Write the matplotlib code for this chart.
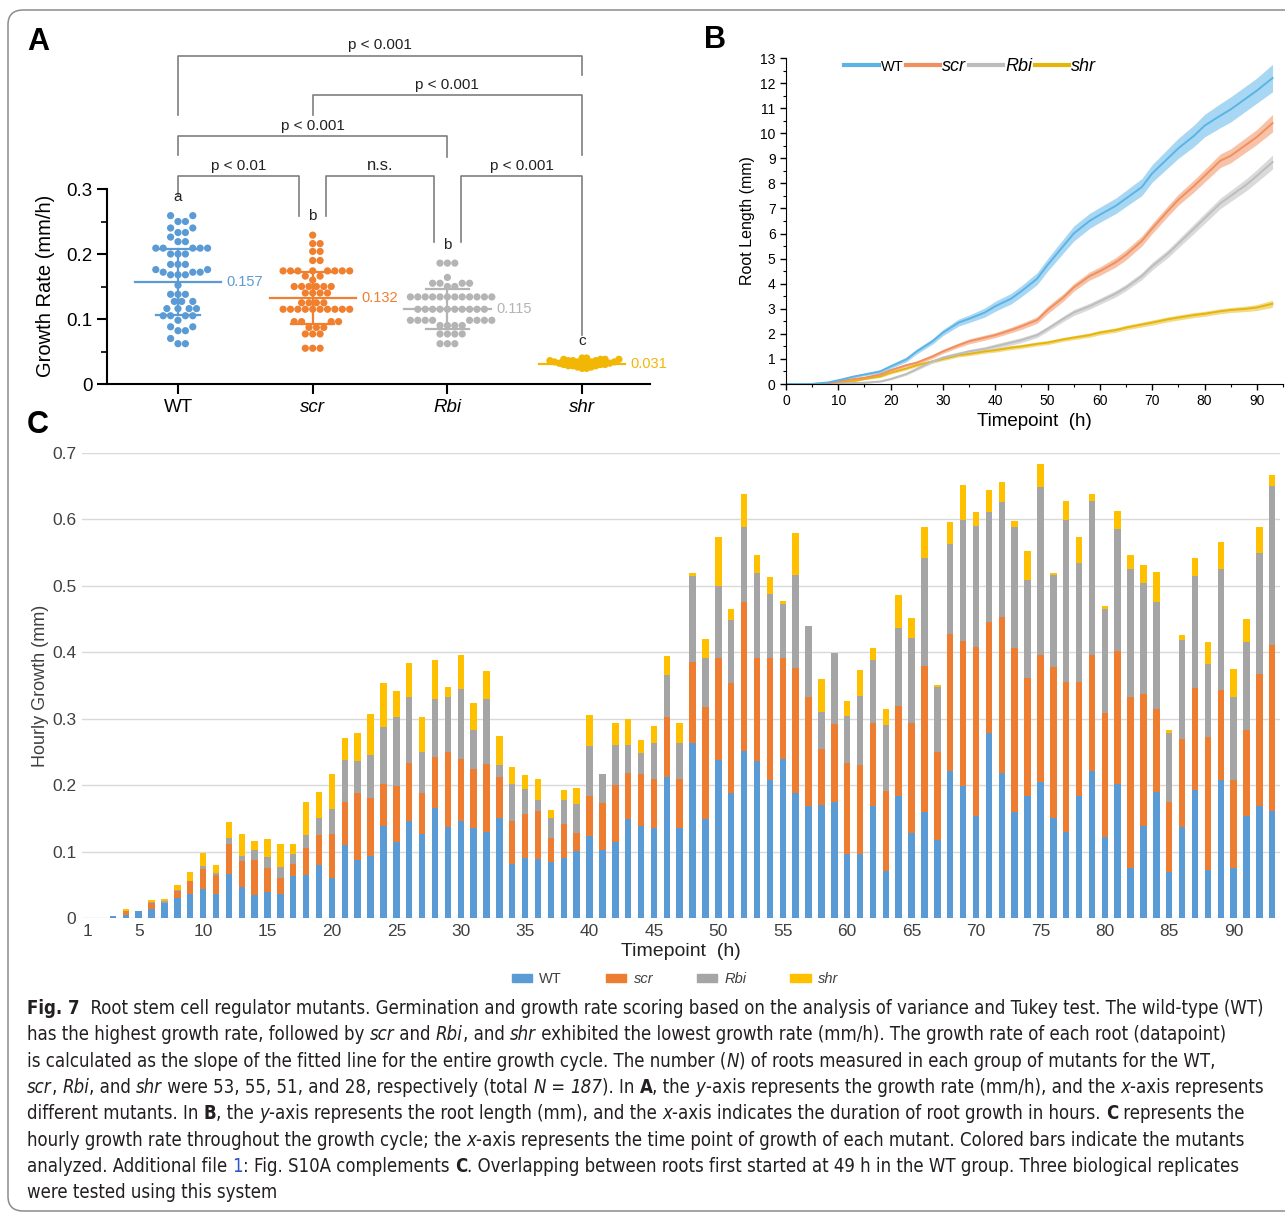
import numpy as np
import matplotlib
matplotlib.use("Agg")
import matplotlib.pyplot as plt
from matplotlib.lines import Line2D
from matplotlib.patches import Patch, FancyBboxPatch
from matplotlib.ticker import MultipleLocator, FuncFormatter, FixedLocator
from matplotlib import font_manager

W, H = 1285, 1213

# ---------------- data ----------------
groups = ["WT", "scr", "Rbi", "shr"]

# panel A: growth rate of each root (mm/h)
wt_rate = ([0.259] * 2 + [0.250] * 2 + [0.240] * 2 + [0.233] * 2 + [0.226] + [0.219] * 2
           + [0.209] * 5 + [0.200] * 3 + [0.184] * 3 + [0.176] * 2 + [0.172] * 3 + [0.168] * 3
           + [0.152] + [0.138] * 3 + [0.127] * 3 + [0.116] * 4 + [0.105] * 4 + [0.098]
           + [0.088] * 2 + [0.082] * 2 + [0.070] + [0.062] * 2)
scr_rate = ([0.229] + [0.216] * 2 + [0.204] * 2 + [0.190] * 2 + [0.174] * 8 + [0.166] * 2
            + [0.160] + [0.150] * 6 + [0.140] * 4 + [0.125] * 4 + [0.115] * 10 + [0.096] * 4
            + [0.087] * 3 + [0.077] * 3 + [0.055] * 3)
rbi_rate = ([0.186] * 3 + [0.164] + [0.155] * 4 + [0.150] * 2 + [0.134] * 12 + [0.115] * 10
            + [0.098] * 8 + [0.090] * 4 + [0.077] * 4 + [0.062] * 3)
shr_rate = ([0.040] * 2 + [0.038] * 4 + [0.036] * 4 + [0.034] * 4 + [0.032] * 4 + [0.030] * 3
            + [0.028] * 3 + [0.026] * 2 + [0.024] * 2)
rate_mean = [0.157, 0.132, 0.115, 0.031]
rate_sd = [0.051, 0.040, 0.031, 0.004]
group_letters = ["a", "b", "b", "c"]
letter_y = [0.277, 0.248, 0.203, 0.055]

# brackets: x1, x2, bar height, left end, right end, label
brackets = [
    (0, 3, 0.505, 0.414, 0.475, "p < 0.001"),
    (1, 3, 0.444, 0.414, 0.352, "p < 0.001"),
    (0, 2, 0.381, 0.352, 0.350, "p < 0.001"),
    (0, 0.9, 0.320, 0.290, 0.259, "p < 0.01"),
    (1.1, 1.9, 0.320, 0.259, 0.218, "n.s."),
    (2.1, 3, 0.320, 0.218, 0.075, "p < 0.001"),
]

# panel B: root length (mm), mean and band half-width
hours_b = [0, 5, 8, 10, 13, 15, 18, 20, 23, 25, 28, 30, 33, 35, 38, 40, 43, 45, 48, 50,
           53, 55, 58, 60, 63, 65, 68, 70, 73, 75, 78, 80, 83, 85, 88, 90, 93]
wt_len = [0, 0, 0.06, 0.15, 0.30, 0.38, 0.50, 0.70, 0.98, 1.30, 1.70, 2.05, 2.45, 2.60,
          2.85, 3.10, 3.40, 3.70, 4.20, 4.75, 5.50, 6.00, 6.50, 6.75, 7.10, 7.40, 7.85,
          8.40, 9.00, 9.40, 9.90, 10.30, 10.70, 10.95, 11.40, 11.70, 12.20]
scr_len = [0, 0, 0.03, 0.10, 0.20, 0.25, 0.38, 0.55, 0.75, 0.85, 1.10, 1.30, 1.55, 1.70,
           1.85, 1.95, 2.15, 2.30, 2.55, 2.95, 3.45, 3.85, 4.30, 4.50, 4.85, 5.15, 5.70,
           6.20, 6.90, 7.35, 7.90, 8.30, 8.90, 9.10, 9.55, 9.85, 10.40]
rbi_len = [0, 0, 0, 0.02, 0.04, 0.05, 0.10, 0.20, 0.40, 0.60, 0.90, 1.05, 1.20, 1.30,
           1.40, 1.50, 1.65, 1.75, 1.95, 2.20, 2.60, 2.85, 3.10, 3.30, 3.60, 3.85, 4.30,
           4.70, 5.20, 5.60, 6.20, 6.60, 7.20, 7.50, 7.95, 8.30, 8.85]
shr_len = [0, 0, 0.02, 0.05, 0.12, 0.20, 0.30, 0.45, 0.62, 0.75, 0.90, 1.00, 1.15, 1.20,
           1.30, 1.35, 1.45, 1.50, 1.60, 1.65, 1.78, 1.85, 1.95, 2.05, 2.15, 2.25, 2.37,
           2.45, 2.58, 2.65, 2.75, 2.80, 2.90, 2.95, 3.00, 3.05, 3.20]
wt_band = [0, 0, 0.02, 0.03, 0.04, 0.05, 0.07, 0.08, 0.10, 0.10, 0.11, 0.12, 0.14, 0.15,
           0.18, 0.20, 0.21, 0.22, 0.24, 0.25, 0.28, 0.30, 0.30, 0.30, 0.31, 0.32, 0.34,
           0.35, 0.38, 0.40, 0.43, 0.45, 0.48, 0.50, 0.50, 0.50, 0.55]
scr_band = [0, 0, 0.01, 0.02, 0.03, 0.04, 0.05, 0.05, 0.06, 0.07, 0.08, 0.08, 0.09, 0.10,
            0.10, 0.10, 0.11, 0.12, 0.13, 0.15, 0.15, 0.15, 0.16, 0.17, 0.19, 0.20, 0.20,
            0.20, 0.21, 0.22, 0.24, 0.25, 0.27, 0.28, 0.29, 0.30, 0.35]
rbi_band = [0, 0, 0, 0.01, 0.015, 0.02, 0.03, 0.04, 0.05, 0.06, 0.07, 0.08, 0.08, 0.08,
            0.09, 0.10, 0.10, 0.10, 0.10, 0.10, 0.11, 0.12, 0.12, 0.12, 0.13, 0.13, 0.14,
            0.15, 0.16, 0.17, 0.19, 0.20, 0.21, 0.22, 0.24, 0.25, 0.28]
shr_band = [0, 0, 0.01, 0.02, 0.025, 0.03, 0.04, 0.05, 0.055, 0.06, 0.065, 0.07, 0.07, 0.07,
            0.075, 0.08, 0.08, 0.08, 0.08, 0.08, 0.08, 0.08, 0.085, 0.09, 0.09, 0.09, 0.095,
            0.10, 0.10, 0.10, 0.10, 0.10, 0.10, 0.10, 0.11, 0.12, 0.14]

# panel C: hourly growth (mm), timepoints 1..93
hours_c = list(range(1, 94))
wt_c = [0, 0, 0.003, 0.005, 0.010, 0.014, 0.023, 0.030, 0.036, 0.043,
        0.036, 0.066, 0.047, 0.035, 0.039, 0.036, 0.063, 0.065, 0.080, 0.060,
        0.110, 0.087, 0.094, 0.138, 0.114, 0.146, 0.126, 0.165, 0.137, 0.146,
        0.135, 0.130, 0.150, 0.082, 0.091, 0.089, 0.085, 0.091, 0.101, 0.124,
        0.103, 0.114, 0.149, 0.139, 0.135, 0.212, 0.136, 0.264, 0.149, 0.238,
        0.188, 0.252, 0.236, 0.208, 0.240, 0.188, 0.169, 0.170, 0.174, 0.097,
        0.096, 0.169, 0.071, 0.183, 0.128, 0.160, 0.118, 0.221, 0.199, 0.154,
        0.279, 0.219, 0.160, 0.184, 0.205, 0.150, 0.129, 0.183, 0.221, 0.122,
        0.202, 0.076, 0.139, 0.189, 0.069, 0.137, 0.193, 0.072, 0.208, 0.076,
        0.154, 0.168, 0.161]
scr_c = [0, 0, 0, 0.005, 0, 0.009, 0, 0.010, 0.019, 0.031,
         0.028, 0.046, 0.039, 0.053, 0.036, 0.024, 0.018, 0.040, 0.045, 0.066,
         0.065, 0.101, 0.086, 0.064, 0.084, 0.088, 0.062, 0.077, 0.113, 0.093,
         0.089, 0.102, 0.063, 0.064, 0.065, 0.072, 0.035, 0.051, 0.027, 0.060,
         0.070, 0.086, 0.070, 0.078, 0.075, 0.090, 0.074, 0.121, 0.168, 0.153,
         0.166, 0.224, 0.156, 0.184, 0.152, 0.188, 0.164, 0.084, 0.118, 0.137,
         0.135, 0.125, 0.120, 0.136, 0.166, 0.220, 0.132, 0.206, 0.218, 0.254,
         0.167, 0.234, 0.246, 0.177, 0.191, 0.228, 0.227, 0.173, 0.175, 0.186,
         0.200, 0.257, 0.198, 0.126, 0.105, 0.132, 0.153, 0.201, 0.135, 0.132,
         0.129, 0.199, 0.250]
rbi_c = [0, 0, 0, 0, 0, 0.001, 0.002, 0.002, 0.001, 0.004,
         0.004, 0.008, 0.008, 0.014, 0.017, 0.017, 0.016, 0.020, 0.025, 0.038,
         0.063, 0.048, 0.066, 0.085, 0.105, 0.098, 0.062, 0.087, 0.083, 0.105,
         0.059, 0.098, 0.018, 0.056, 0.038, 0.017, 0.031, 0.036, 0.044, 0.075,
         0.044, 0.060, 0.041, 0.031, 0.054, 0.064, 0.054, 0.130, 0.075, 0.109,
         0.095, 0.113, 0.127, 0.095, 0.080, 0.140, 0.106, 0.056, 0.107, 0.070,
         0.103, 0.094, 0.099, 0.118, 0.128, 0.162, 0.097, 0.136, 0.182, 0.182,
         0.165, 0.173, 0.182, 0.148, 0.253, 0.139, 0.243, 0.178, 0.232, 0.157,
         0.183, 0.193, 0.168, 0.160, 0.104, 0.149, 0.169, 0.109, 0.183, 0.124,
         0.133, 0.183, 0.240]
shr_c = [0, 0, 0, 0.004, 0, 0.003, 0.003, 0.008, 0.013, 0.020,
         0.012, 0.024, 0.033, 0.014, 0.027, 0.035, 0.014, 0.049, 0.039, 0.053,
         0.033, 0.042, 0.061, 0.067, 0.038, 0.052, 0.052, 0.060, 0.015, 0.052,
         0.040, 0.042, 0.043, 0.026, 0.022, 0.032, 0.012, 0.015, 0.023, 0.046,
         0, 0.033, 0.040, 0.020, 0.025, 0.029, 0.029, 0.005, 0.028, 0.073,
         0.016, 0.049, 0.027, 0.026, 0.005, 0.063, 0, 0.050, 0, 0.023,
         0.040, 0.018, 0.024, 0.049, 0.030, 0.047, 0.004, 0.033, 0.053, 0.021,
         0.034, 0.031, 0.010, 0.044, 0.035, 0.003, 0.029, 0.039, 0.011, 0.005,
         0.027, 0.021, 0.027, 0.046, 0.005, 0.008, 0.027, 0.034, 0.040, 0.043,
         0.034, 0.039, 0.016]

caption_lines = [
    [("Fig. 7", "b"), ("  Root stem cell regulator mutants. Germination and growth rate scoring based on the analysis of variance and Tukey test. The wild-type (WT)", "n")],
    [("has the highest growth rate, followed by ", "n"), ("scr", "i"), (" and ", "n"), ("Rbi", "i"), (", and ", "n"), ("shr", "i"),
     (" exhibited the lowest growth rate (mm/h). The growth rate of each root (datapoint)", "n")],
    [("is calculated as the slope of the fitted line for the entire growth cycle. The number (", "n"), ("N", "i"),
     (") of roots measured in each group of mutants for the WT,", "n")],
    [("scr", "i"), (", ", "n"), ("Rbi", "i"), (", and ", "n"), ("shr", "i"), (" were 53, 55, 51, and 28, respectively (total ", "n"),
     ("N", "i"), (" = ", "n"), ("187", "i"), ("). In ", "n"), ("A", "b"), (", the ", "n"), ("y", "i"),
     ("-axis represents the growth rate (mm/h), and the ", "n"), ("x", "i"), ("-axis represents", "n")],
    [("different mutants. In ", "n"), ("B", "b"), (", the ", "n"), ("y", "i"), ("-axis represents the root length (mm), and the ", "n"),
     ("x", "i"), ("-axis indicates the duration of root growth in hours. ", "n"), ("C", "b"), (" represents the", "n")],
    [("hourly growth rate throughout the growth cycle; the ", "n"), ("x", "i"),
     ("-axis represents the time point of growth of each mutant. Colored bars indicate the mutants", "n")],
    [("analyzed. Additional file ", "n"), ("1", "l"), (": Fig. S10A complements ", "n"), ("C", "b"),
     (". Overlapping between roots first started at 49 h in the WT group. Three biological replicates", "n")],
    [("were tested using this system", "n")],
]

# ---------------- styling ----------------
dot_colors = ["#5B9BD5", "#F07F2E", "#B4B4B4", "#F2B705"]
line_colors = ["#5BB4E5", "#F0905E", "#BDBDBD", "#E5B50C"]
band_colors = ["#9FD3F2", "#F7BC9E", "#D6D6D6", "#F1D77A"]
bar_colors = ["#5B9BD5", "#ED7D31", "#A5A5A5", "#FFC000"]
swarm_gap = [7.4, 7.4, 7.4, 4.6]

plt.rcParams["font.family"] = ["Liberation Sans", "DejaVu Sans"]


def has_font(name):
    try:
        font_manager.findfont(name, fallback_to_default=False)
        return True
    except Exception:
        return False


if has_font("Liberation Sans Narrow"):
    cap_font = {"family": "Liberation Sans Narrow"}
else:
    cap_font = {"family": "DejaVu Sans", "stretch": "condensed"}

fig = plt.figure(figsize=(W / 100, H / 100), dpi=100)


def box(x0, y0, x1, y1):
    """pixel box (top-left origin) -> figure rect"""
    return [x0 / W, 1 - y1 / H, (x1 - x0) / W, (y1 - y0) / H]


def swarm(vals, xs, ys, d):
    """beeswarm offsets (data units) for one group"""
    vals = np.asarray(vals, dtype=float)
    offs = np.zeros(len(vals))
    placed = []
    for i in np.argsort(vals):
        y = vals[i] * ys
        k, found = 0, None
        while found is None:
            for sgn in ([1] if k == 0 else [1, -1]):
                x = sgn * k * d * 0.5
                if all((x - px) ** 2 + (y - py) ** 2 >= d * d * 0.98 for px, py in placed):
                    found = x
                    break
            k += 1
        placed.append((found, y))
        offs[i] = found / xs
    return offs


# ---------------- panel A ----------------
axA = fig.add_axes(box(107, 20, 650, 384))
axA.set_xlim(-0.527, 3.504)
axA.set_ylim(0, 0.56)
px_x = 543 / (3.504 + 0.527)
px_y = 364 / 0.56
rates = [wt_rate, scr_rate, rbi_rate, shr_rate]
for i, vals in enumerate(rates):
    c = dot_colors[i]
    offs = swarm(vals, px_x, px_y, swarm_gap[i])
    axA.scatter(i + offs, vals, s=27, color=c, edgecolor="none", zorder=3)
    m, sd = rate_mean[i], rate_sd[i]
    axA.plot([i - 0.32, i + 0.32], [m, m], color=c, lw=1.6, zorder=4)
    axA.plot([i - 0.16, i + 0.16], [m + sd, m + sd], color=c, lw=1.6, zorder=4)
    axA.plot([i - 0.16, i + 0.16], [m - sd, m - sd], color=c, lw=1.6, zorder=4)
    axA.plot([i, i], [m - sd, m + sd], color=c, lw=1.6, zorder=4)
    axA.text(i + 0.36, m, f"{m:.3f}", color=c, fontsize=10.5, va="center", ha="left")
    axA.text(i, letter_y[i], group_letters[i], fontsize=11, ha="center", va="bottom", color="#222222")

for x1, x2, yb, yl, yr, lab in brackets:
    axA.plot([x1, x1, x2, x2], [yl, yb, yb, yr], color="#7F7F7F", lw=1.2, clip_on=False)
    axA.text((x1 + x2) / 2, yb + 0.005, lab, ha="center", va="bottom",
             fontsize=12 if lab == "n.s." else 11, color="#222222")

for s in ["top", "right"]:
    axA.spines[s].set_visible(False)
axA.spines["left"].set_bounds(0, 0.3)
axA.spines["left"].set_linewidth(1.5)
axA.spines["bottom"].set_linewidth(1.5)
axA.set_yticks([0, 0.1, 0.2, 0.3])
axA.set_yticklabels(["0", "0.1", "0.2", "0.3"])
axA.yaxis.set_minor_locator(FixedLocator([0.05, 0.15, 0.25]))
axA.set_xticks(range(4))
axA.set_xticklabels(groups)
for lbl in axA.get_xticklabels()[1:]:
    lbl.set_fontstyle("italic")
axA.tick_params(axis="both", which="major", direction="out", length=7, width=1.5, labelsize=13.5)
axA.tick_params(axis="y", which="minor", direction="out", length=4, width=1.2)
axA.set_ylabel("Growth Rate (mm/h)", fontsize=14.5, labelpad=6)
axA.yaxis.set_label_coords(-0.095, 0.27)

# ---------------- panel B ----------------
axB = fig.add_axes(box(786, 58, 1283, 384))
lens = [wt_len, scr_len, rbi_len, shr_len]
bands = [wt_band, scr_band, rbi_band, shr_band]
for i in [3, 2, 1, 0]:
    m = np.array(lens[i])
    b = np.array(bands[i])
    axB.fill_between(hours_b, m - b, m + b, color=band_colors[i], lw=0, alpha=0.9)
    axB.plot(hours_b, m, color=line_colors[i], lw=1.4)
axB.set_xlim(0, 95)
axB.set_ylim(0, 13)
axB.xaxis.set_major_locator(MultipleLocator(10))
axB.xaxis.set_minor_locator(MultipleLocator(5))
axB.yaxis.set_major_locator(MultipleLocator(1))
axB.yaxis.set_minor_locator(MultipleLocator(0.5))
for s in ["top", "right"]:
    axB.spines[s].set_visible(False)
axB.tick_params(axis="both", which="major", direction="out", length=4, width=1, labelsize=10)
axB.tick_params(axis="both", which="minor", direction="out", length=2.5, width=0.8)
axB.set_ylabel("Root Length (mm)", fontsize=11.5, labelpad=4)
axB.set_xlabel("Timepoint  (h)", fontsize=13.5, labelpad=3)
handles = [Line2D([0], [0], color=line_colors[i], lw=3) for i in range(4)]
legB = axB.legend(handles, groups, loc="upper left", bbox_to_anchor=(0.085, 1.05), ncol=4,
                  frameon=False, fontsize=13, handlelength=1.9, handletextpad=0.1,
                  columnspacing=0.15)
legB.get_texts()[0].set_fontsize(10.5)
for t in legB.get_texts()[1:]:
    t.set_fontstyle("italic")

# ---------------- panel C ----------------
axC = fig.add_axes(box(82, 453, 1280, 918))
bottom = np.zeros(len(hours_c))
for vals, c in zip([wt_c, scr_c, rbi_c, shr_c], bar_colors):
    axC.bar(hours_c, vals, width=0.5, bottom=bottom, color=c, lw=0, zorder=3)
    bottom = bottom + np.array(vals)
axC.set_xlim(0.6, 93.6)
axC.set_ylim(0, 0.7)
axC.set_yticks(np.round(np.arange(0, 0.71, 0.1), 1))
axC.yaxis.set_major_formatter(FuncFormatter(lambda v, p: "0" if v == 0 else f"{v:.1f}"))
axC.set_xticks([1] + list(range(5, 91, 5)))
axC.grid(axis="y", color="#D9D9D9", lw=1, zorder=0)
for s in axC.spines.values():
    s.set_visible(False)
axC.tick_params(axis="both", length=0, labelsize=12.5, labelcolor="#404040", pad=4)
axC.set_ylabel("Hourly Growth (mm)", fontsize=13, color="#404040", labelpad=2)
axC.set_xlabel("Timepoint  (h)", fontsize=14, color="#222222", labelpad=3)
patches = [Patch(color=c) for c in bar_colors]
legC = fig.legend(patches, groups, loc="center", bbox_to_anchor=(675 / W, 1 - 979 / H), ncol=4,
                  frameon=False, fontsize=10.5, handlelength=1.4, handleheight=0.45,
                  handletextpad=0.5, columnspacing=3.0)
for t in legC.get_texts():
    t.set_color("#404040")
for t in legC.get_texts()[1:]:
    t.set_fontstyle("italic")

# ---------------- panel letters / frame ----------------
for lab, x, y in [("A", 38, 42), ("B", 715, 40), ("C", 38, 425)]:
    fig.text(x / W, 1 - y / H, lab, fontsize=22, fontweight="bold", ha="center", va="center")

fig.patches.append(FancyBboxPatch((8 / W, 1 - 1211 / H), 1300 / W, 1201 / H,
                                  boxstyle="round,pad=0,rounding_size=0.012",
                                  transform=fig.transFigure, fc="none", ec="#8C8C8C", lw=1.1))

# ---------------- caption ----------------
renderer = fig.canvas.get_renderer()
styles = {"n": {}, "b": {"fontweight": "bold"}, "i": {"style": "italic"}, "l": {"color": "#2A57C7"}}


def seg_width(s, props, size):
    a = fig.text(0, 0, "x" + s + "x", fontsize=size, **cap_font, **props)
    b = fig.text(0, 0, "xx", fontsize=size, **cap_font, **props)
    w = a.get_window_extent(renderer).width - b.get_window_extent(renderer).width
    a.remove()
    b.remove()
    return w


base = 13.0
w1 = sum(seg_width(s, styles[k], base) for s, k in caption_lines[0])
cap_size = base * (1241 / w1)

for li, line in enumerate(caption_lines):
    x = 27
    yb = 1014 + li * 26.3
    for s, k in line:
        extra = {kk: vv for kk, vv in styles[k].items() if kk != "color"}
        fig.text(x / W, 1 - yb / H, s, fontsize=cap_size, va="baseline", ha="left",
                 color=styles[k].get("color", "#231F20"), **cap_font, **extra)
        x += seg_width(s, styles[k], cap_size)

fig.savefig("out.png", dpi=100)
